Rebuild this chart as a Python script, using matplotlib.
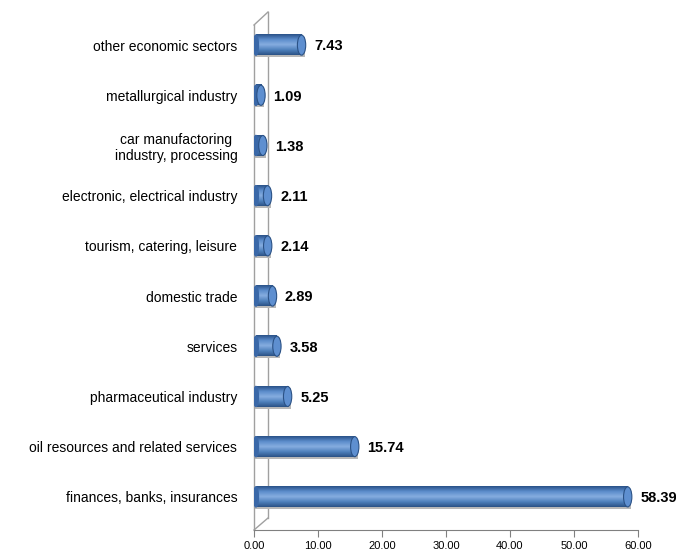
import matplotlib.pyplot as plt
import numpy as np
from matplotlib.patches import Ellipse, Rectangle
from matplotlib.colors import LinearSegmentedColormap

plt.rcParams['font.family'] = ['Liberation Sans', 'DejaVu Sans']

categories = ['finances, banks, insurances', 'oil resources and related services',
              'pharmaceutical industry', 'services', 'domestic trade',
              'tourism, catering, leisure', 'electronic, electrical industry',
              'car manufactoring\nindustry, processing', 'metallurgical industry',
              'other economic sectors']
values = [58.39, 15.74, 5.25, 3.58, 2.89, 2.14, 2.11, 1.38, 1.09, 7.43]
xticks = [0, 10, 20, 30, 40, 50, 60]

fig = plt.figure(figsize=(6.76, 5.54), dpi=100)
ax = fig.add_axes([254 / 676, 24 / 554, 384 / 676, 510 / 554])

cyl = LinearSegmentedColormap.from_list('cyl', ['#2b5286', '#4f81bd', '#86ade0', '#5b8ccb', '#2a5289'])
grad = np.linspace(0, 1, 64).reshape(-1, 1)
h = 0.4
cap_w = 1.3

for i, v in enumerate(values):
    # faint shadow
    ax.add_patch(Rectangle((0.2, i - h / 2 - 0.04), v + 0.3, h, color='#b8b8b8', lw=0, zorder=1))
    ax.imshow(grad, cmap=cyl, aspect='auto', extent=(0.3, v, i + h / 2, i - h / 2),
              zorder=2, interpolation='bilinear')
    ax.add_patch(Ellipse((0.3, i), cap_w * 0.6, h, color='#3a68a8', zorder=2))
    ax.add_patch(Ellipse((v, i), cap_w, h, facecolor='#5e8fd0', edgecolor='#2b5286', lw=0.8, zorder=3))
    ax.annotate(f'{v:.2f}', (v, i), xytext=(9, -1), textcoords='offset points',
                va='center', ha='left', fontsize=10.5, fontweight='bold', color='black')

ax.set_xlim(0, 60)
ax.set_ylim(-0.66, 9.5)
ax.set_yticks(range(len(categories)))
ax.set_yticklabels(categories, fontsize=10, multialignment='center')
ax.tick_params(axis='y', length=0, pad=12)
ax.set_xticks(xticks)
ax.set_xticklabels([f'{t:.2f}' for t in xticks], fontsize=8)
ax.tick_params(axis='x', length=5, color='#808080', pad=3)

for s in ['top', 'right', 'left']:
    ax.spines[s].set_visible(False)
ax.spines['bottom'].set_color('#808080')

# 3D wall edges
tr = ax.transAxes
wx = 14 / 384
ax.plot([0, 0], [0, 1 - 5 / 510], color='#a0a0a0', lw=1, transform=tr, clip_on=False, zorder=0.5)
ax.plot([0, wx], [1 - 5 / 510, 1 + 8 / 510], color='#a0a0a0', lw=1, transform=tr, clip_on=False, zorder=0.5)
ax.plot([wx, wx], [1 + 8 / 510, 12 / 510], color='#a0a0a0', lw=1, transform=tr, clip_on=False, zorder=0.5)
ax.plot([0, wx], [0, 12 / 510], color='#a0a0a0', lw=1, transform=tr, clip_on=False, zorder=0.5)

fig.savefig('out.png', dpi=100)
